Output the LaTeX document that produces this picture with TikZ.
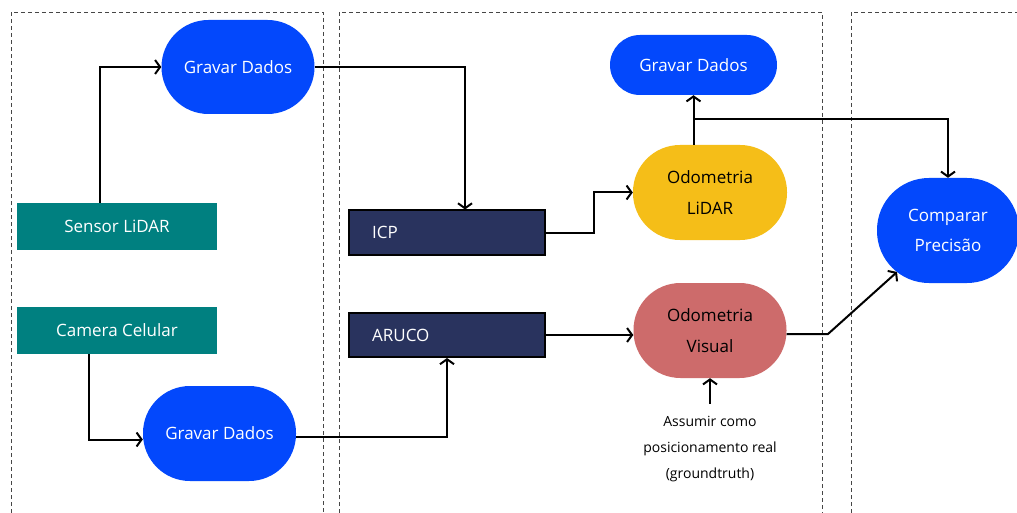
\documentclass[tikz,border=0pt]{standalone}
\usepackage{fontspec}
\setmainfont{Open Sans}
\usetikzlibrary{arrows.meta}
\definecolor{bluebox}{RGB}{3,72,252}
\definecolor{tealbox}{RGB}{0,128,128}
\definecolor{navybox}{RGB}{41,51,94}
\definecolor{yellowbox}{RGB}{245,190,24}
\definecolor{salmonbox}{RGB}{205,107,107}
\definecolor{framegray}{RGB}{70,70,70}
\begin{document}
\begin{tikzpicture}[x=1pt,y=-1pt,
  lane/.style={draw=framegray,dash pattern=on 4pt off 3pt,line width=0.8pt},
  pill/.style={fill=bluebox,text=white,font=\fontsize{17}{21}\selectfont,align=center,inner sep=0pt},
  srcbox/.style={fill=tealbox,text=white,font=\fontsize{17}{21}\selectfont,minimum width=200pt,minimum height=47pt,inner sep=0pt},
  algbox/.style={fill=navybox,draw=black,line width=2pt,minimum width=196pt,minimum height=44pt,inner sep=0pt},
  alglabel/.style={anchor=west,text=white,font=\fontsize{17}{21}\selectfont,inner sep=0pt},
  flow/.style={line width=2pt,-{Straight Barb[length=5pt,width=14pt,line width=2pt]}}]
\useasboundingbox (0,0) rectangle (1017,513);
\fill[white] (0,0) rectangle (1017,513);
\begin{scope}
\clip (0,0) rectangle (1017,513);
% lanes
\draw[lane] (11,520) -- (11,12) -- (323,12) -- (323,520);
\draw[lane] (339,520) -- (339,12) -- (822,12) -- (822,520);
\draw[lane] (851,520) -- (851,12) -- (1030,12);

% sources
\node[srcbox] (lidar) at (117,226.5) {Sensor LiDAR};
\node[srcbox] (cam) at (117,330.5) {Camera Celular};

% recording
\node[pill,minimum width=153pt,minimum height=94pt,rounded corners=47pt] (gd1) at (238,67) {Gravar Dados};
\node[pill,minimum width=153pt,minimum height=95pt,rounded corners=47pt] (gd2) at (219.5,433.5) {Gravar Dados};

% algorithms
\node[algbox] (icp) at (447,232.5) {};
\node[alglabel] at ([xshift=24pt]icp.west) {ICP};
\node[algbox] (aruco) at (447,335) {};
\node[alglabel] at ([xshift=24pt]aruco.west) {ARUCO};

% odometry
\node[pill,fill=yellowbox,text=black,minimum width=154pt,minimum height=95pt,rounded corners=47pt] (odl) at (710,192.5) {Odometria\\[10pt]LiDAR};
\node[pill,fill=salmonbox,text=black,minimum width=153pt,minimum height=95pt,rounded corners=47pt] (odv) at (710,330.5) {Odometria\\[10pt]Visual};
\node[pill,minimum width=167pt,minimum height=60pt,rounded corners=30pt] (gd3) at (693.5,65) {Gravar Dados};

% comparison
\node[pill,minimum width=142pt,minimum height=105pt,rounded corners=52pt] (cmp) at (948,230.5) {Comparar\\[9pt]Precisão};

% note
\node[align=center,font=\fontsize{14}{26}\selectfont,inner sep=0pt] (gt) at (710,449) {Assumir como\\posicionamento real\\(groundtruth)};

% connectors
\draw[flow] ([xshift=-17pt]lidar.north) |- (gd1.west);
\draw[flow] ([xshift=-28pt]cam.south) |- ([yshift=-6pt]gd2.west);
\draw[flow] (gd1.east) -| ([xshift=18pt]icp.north);
\draw[flow] ([yshift=-3pt]gd2.east) -| (aruco.south);
\draw[flow] (icp.east) -- ++(48,0) |- (odl.west);
\draw[flow] (aruco.east) -- (aruco.east -| odv.west);
\draw[flow] (gd3.south |- odl.north) -- (gd3.south);
\coordinate (split) at (gd3.south |- 0,119);
\draw[flow] (split) -| (cmp.north);
\coordinate (bend) at (828,334);
\coordinate (cmpin) at (897,272);
\draw[flow] ([yshift=-3.5pt]odv.east) -- (bend) -- (cmpin);
\draw[flow] ([yshift=12pt]gt.north) -- (odv.south);
\end{scope}
\end{tikzpicture}
\end{document}
